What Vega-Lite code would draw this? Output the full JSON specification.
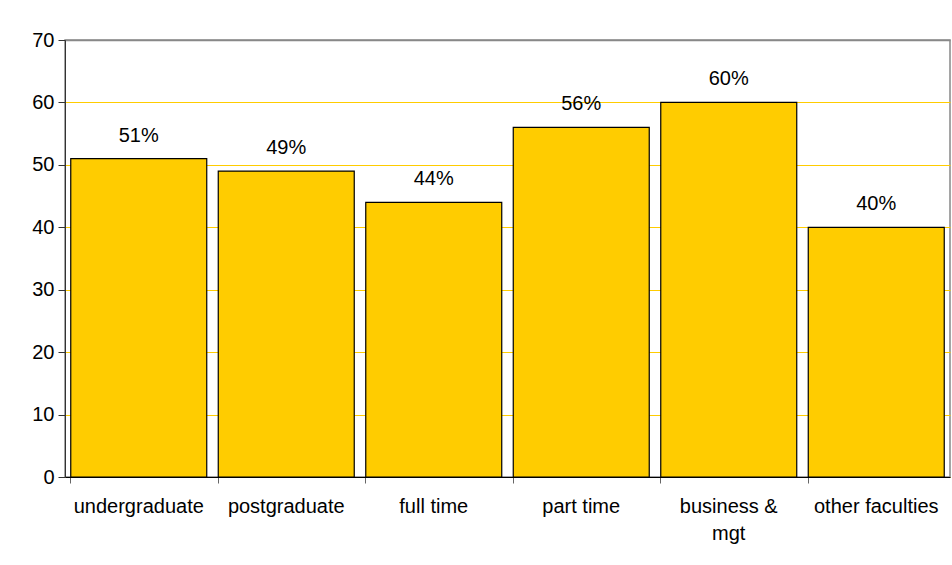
{
  "$schema": "https://vega.github.io/schema/vega-lite/v6.json",
  "autosize": {"type": "none"},
  "padding": {"left": 65, "top": 40, "right": 2, "bottom": 88},
  "width": 885,
  "height": 437,
  "background": "#ffffff",
  "config": {
    "view": {"stroke": "#888888", "strokeWidth": 1.5},
    "font": "Liberation Sans",
    "axis": {"labelFont": "Liberation Sans", "labelColor": "#000000"}
  },
  "data": {
    "values": [
      {"category": "undergraduate", "value": 51, "label": "51%"},
      {"category": "postgraduate", "value": 49, "label": "49%"},
      {"category": "full time", "value": 44, "label": "44%"},
      {"category": "part time", "value": 56, "label": "56%"},
      {"category": "business & mgt", "value": 60, "label": "60%"},
      {"category": "other faculties", "value": 40, "label": "40%"}
    ]
  },
  "encoding": {
    "x": {
      "field": "category",
      "type": "nominal",
      "sort": null,
      "scale": {"paddingInner": 0.078, "paddingOuter": 0.039},
      "axis": {
        "title": null,
        "labelAngle": 0,
        "labelFontSize": 20,
        "labelPadding": 13,
        "labelLineHeight": 27,
        "labelLimit": 0,
        "bandPosition": 0,
        "tickSize": 6,
        "tickColor": "#666666",
        "domainColor": "#000000",
        "grid": false,
        "labelExpr": "datum.label == 'business & mgt' ? ['business &', 'mgt'] : datum.label"
      }
    },
    "y": {
      "field": "value",
      "type": "quantitative",
      "scale": {"domain": [0, 70], "nice": false},
      "axis": {
        "title": null,
        "values": [0, 10, 20, 30, 40, 50, 60, 70],
        "labelFontSize": 20,
        "labelPadding": 4,
        "tickSize": 7,
        "tickColor": "#333333",
        "domainColor": "#333333",
        "gridColor": {"condition": {"test": "datum.value == 70", "value": "#888888"}, "value": "#FFCC00"},
        "gridWidth": {"condition": {"test": "datum.value == 70", "value": 1.5}, "value": 1}
      }
    }
  },
  "layer": [
    {
      "mark": {"type": "bar", "fill": "#FFCC00", "stroke": "#000000", "strokeWidth": 1.2}
    },
    {
      "mark": {"type": "text", "baseline": "bottom", "dy": -13, "fontSize": 20, "color": "#000000"},
      "encoding": {"text": {"field": "label"}}
    }
  ]
}
